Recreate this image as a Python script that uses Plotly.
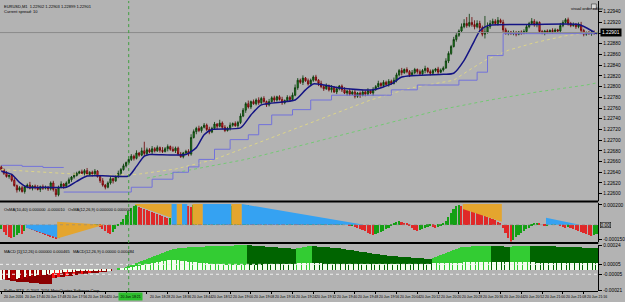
import plotly.graph_objects as go

W, H = 625, 302
BG = '#B3B3B3'

# ---------------- DATA ----------------
# EURUSD M1 candles; prices stored as points (1e-5) above 1.22000
BASE = 1.22
FIRST_OPEN = 650
CLOSE_PTS = [
    645, 638, 632, 634, 625, 615, 607, 611, 604, 613,
    616, 610, 614, 611, 608, 613, 610, 612, 609, 620,
    608, 598, 612, 618, 614, 620, 626, 631, 634, 638,
    641, 638, 643, 636, 640, 637, 642, 632, 624, 616,
    612, 620, 628, 624, 632, 638, 645, 652, 658, 664,
    670, 666, 676, 672, 680, 675, 682, 678, 684, 680,
    686, 681, 679, 684, 688, 683, 680, 685, 674, 669,
    676, 679, 674, 705, 716, 722, 718, 724, 728, 720,
    715, 722, 730, 726, 732, 724, 718, 722, 728, 731,
    727, 733, 745, 756, 768, 762, 772, 768, 775, 770,
    778, 772, 766, 772, 779, 775, 781, 776, 770, 774,
    780, 776, 784, 798, 812, 808, 816, 811, 805, 812,
    818, 812, 806, 800, 796, 802, 794, 798, 790, 796,
    801, 794, 788, 792, 786, 790, 782, 788, 784, 790,
    786, 792, 788, 795, 800, 806, 802, 808, 804, 810,
    806, 812, 822, 830, 826, 832, 828, 822, 826, 832,
    828, 824, 830, 834, 828, 825, 830, 833, 827, 831,
    835, 848, 862, 875, 888, 896, 904, 912, 918, 914,
    920, 916, 912, 918, 910, 898, 902, 912, 918, 922,
    918, 924, 920, 906, 900, 902, 899, 901, 898, 902,
    900, 903, 912, 918, 922, 916, 920, 903, 900, 904,
    902, 905, 903, 906, 904, 914, 920, 925, 918, 914,
    916, 912, 915, 905, 898, 901, 899, 902, 900, 901,
]
UPPER_WICK = [
    3, 2, 4, 2, 3, 5, 2, 3, 4, 2,
    3, 6, 2, 3, 5, 2, 4, 3, 2, 3,
    4, 2, 3, 5, 2, 3, 4, 2, 5, 3,
    2, 4, 3, 5, 2, 3, 4, 2, 3, 5,
    2, 3, 4, 2, 3, 5, 3, 4, 2, 6,
    4, 3, 5, 2, 6, 17, 4, 3, 5, 3,
    4, 2, 6, 3, 4, 2, 5, 3, 3, 4,
    2, 3, 4, 6, 4, 3, 5, 2, 4, 3,
    5, 3, 4, 2, 6, 3, 4, 3, 5, 2,
    4, 3, 5, 4, 3, 6, 2, 4, 3, 5,
    3, 4, 2, 5, 3, 4, 2, 3, 5, 2,
    4, 3, 5, 6, 4, 3, 5, 2, 4, 3,
    3, 4, 2, 5, 3, 4, 2, 5, 3, 4,
    2, 3, 5, 2, 4, 3, 5, 2, 3, 4,
    3, 5, 2, 4, 3, 5, 2, 4, 3, 4,
    3, 5, 4, 3, 5, 2, 4, 3, 5, 3,
    2, 4, 3, 5, 2, 4, 3, 2, 4, 3,
    3, 5, 4, 3, 5, 4, 3, 6, 8, 12,
    16, 10, 8, 6, 5, 4, 30, 8, 6, 5,
    4, 6, 3, 5, 4, 3, 2, 4, 3, 2,
    3, 4, 5, 3, 6, 4, 3, 2, 3, 2,
    3, 2, 4, 3, 2, 5, 4, 3, 4, 3,
    4, 3, 5, 6, 3, 2, 3, 2, 3, 2,
]
LOWER_WICK = [
    2, 3, 2, 4, 3, 2, 5, 3, 2, 4,
    3, 2, 4, 3, 2, 5, 3, 2, 4, 3,
    4, 4, 3, 2, 5, 3, 2, 4, 3, 2,
    3, 2, 4, 3, 2, 5, 3, 2, 4, 3,
    4, 2, 3, 5, 2, 3, 4, 2, 3, 2,
    3, 4, 2, 3, 2, 4, 3, 2, 5, 3,
    2, 4, 3, 2, 5, 3, 2, 4, 3, 2,
    3, 2, 4, 3, 2, 5, 3, 4, 2, 3,
    4, 2, 3, 5, 2, 4, 3, 2, 4, 3,
    2, 4, 3, 2, 5, 3, 4, 2, 3, 4,
    3, 2, 4, 3, 2, 5, 3, 2, 4, 3,
    2, 4, 3, 2, 4, 3, 5, 2, 3, 4,
    3, 2, 5, 3, 4, 2, 3, 5, 2, 4,
    3, 4, 2, 5, 3, 2, 4, 3, 5, 2,
    4, 3, 2, 5, 3, 2, 4, 3, 2, 4,
    3, 2, 4, 3, 5, 2, 3, 4, 2, 3,
    4, 3, 2, 5, 3, 4, 2, 3, 5, 2,
    3, 2, 4, 3, 2, 4, 3, 2, 3, 4,
    3, 4, 5, 3, 6, 4, 8, 3, 4, 2,
    3, 4, 2, 5, 3, 4, 2, 3, 4, 2,
    3, 2, 4, 3, 2, 4, 5, 3, 2, 4,
    3, 2, 4, 3, 2, 4, 3, 2, 4, 3,
    2, 4, 3, 5, 4, 3, 2, 4, 3, 2,
]

# indicator lines read at sample bars (points above 1.22000)
FAST_BARS = [0, 4, 7, 10, 17, 25, 29, 33, 41, 49, 52, 55, 57, 71, 75, 78, 81, 92, 96, 100, 113,
             117, 120, 131, 143, 150, 154, 170, 174, 178, 182, 184, 187, 203, 222, 225, 229]
FAST_PTS = [642, 636, 621, 612, 612, 612, 623, 633, 633, 633, 651, 670, 673, 673, 686, 710, 720, 723,
            747, 766, 775, 794, 805, 797, 794, 805, 818, 823, 825, 849, 886, 904, 914, 916, 916, 910, 899]
UPPER_STOP_BARS = [0, 8, 16, 24]
UPPER_STOP_PTS = [653, 651, 649, 649]
LOWER_STOP_BARS = [24, 50, 58, 66, 72, 76, 82, 88, 95, 99, 104, 112, 119, 127, 150, 160, 176, 183, 187, 193, 229]
LOWER_STOP_PTS = [603, 612, 627, 640, 650, 664, 683, 701, 710, 729, 747, 757, 775, 784, 794, 803, 812,
                  827, 858, 899, 899]
SLOW_BARS = [0, 19, 37, 52, 67, 82, 97, 112, 127, 142, 157, 174, 180, 186, 195, 205, 217, 229]
SLOW_PTS = [645, 640, 634, 636, 646, 664, 692, 720, 747, 775, 797, 812, 831, 849, 868, 882, 895, 903]
LONG_BARS = [56, 75, 94, 112, 131, 150, 169, 188, 206, 225, 229]
LONG_PTS = [629, 646, 664, 686, 710, 734, 757, 775, 790, 803, 807]

PRICE_TICKS = [1.22940, 1.22920, 1.22900, 1.22880, 1.22860, 1.22840, 1.22820, 1.22800, 1.22780,
               1.22760, 1.22740, 1.22720, 1.22700, 1.22680, 1.22660, 1.22640, 1.22620, 1.22600]

# OsMA histogram (1e-5)
OSMA = [
    -4, -7, -10, -12, -13, -12, -10, -8, -9, -6,
    -3, -4, -5, -6, -7, -8, -9, -10, -11, -12,
    -13, -14, -13, -12, -11, -10, -9, -8, -7, -6,
    -5, -4, -3, -3, -2, -2, -1, -1, -2, -4,
    -6, -8, -9, -7, -4, -1, 3, 6, 10, 14,
    17, 19, 20, 18, 17, 16, 15, 14, 13, 12,
    11, 10, 9, 8, 7, 7, 6, 8, 12, 16,
    19, 20, 19, 18, 20, 20, 19, 18, 20, 20,
    20, 19, 20, 20, 19, 20, 20, 18, 17, 19,
    20, 20, 19, 20, 20, 20, 19, 18, 18, 17,
    16, 16, 15, 14, 14, 13, 12, 12, 11, 10,
    10, 9, 9, 8, 7, 7, 6, 6, 5, 5,
    4, 4, 3, 3, 3, 2, 2, 2, 1, 1,
    1, 1, 0, 0, -1, -1, -2, -3, -4, -5,
    -6, -8, -9, -10, -9, -8, -7, -6, -4, -3,
    -1, 1, 3, 4, 3, 2, 1, -1, -3, -5,
    -6, -5, -4, -3, -2, -1, -2, -3, -2, -1,
    1, 4, 8, 12, 16, 19, 20, 19, 18, 17,
    16, 15, 14, 13, 12, 10, 9, 8, 7, 6,
    5, 3, 1, -3, -8, -13, -17, -15, -12, -10,
    -8, -6, -4, -3, -1, 1, 2, 1, 0, -1,
    -1, 0, 1, 1, 0, -1, -2, -3, -2, -3,
    -4, -5, -6, -7, -8, -9, -10, -11, -10, -9,
]
# OsMA cloud segments: (colour, first bar, last bar, top@first, top@last, bottom@first, bottom@last)
OSMA_CLOUDS = [
    ('blue', 10, 22, 0, 0, -3, -14),
    ('orange', 22, 39, 3, 0, -14, 0),
    ('orange', 52, 66, 21, 21, 20, 6),
    ('blue', 66, 67, 21, 21, 0, 0),
    ('orange', 68, 70, 21, 21, 0, 0),
    ('blue', 70, 71, 21, 21, 0, 0),
    ('orange', 74, 77, 21, 21, 0, 0),
    ('blue', 78, 88, 21, 21, 0, 0),
    ('orange', 89, 92, 21, 21, 0, 0),
    ('blue', 93, 139, 21, 0, 0, 0),
    ('orange', 178, 192, 21, 21, 16, 3),
    ('blue', 210, 222, 7, 0, 0, 0),
]

# MACD main (1e-5)
MACD_MAIN = [
    -9, -9, -10, -10, -11, -11, -12, -12, -12, -12, -12, -13, -13, -13, -13,
    -14, -14, -14, -14, -14,
    -8, -8, -7, -7, -7, -6, -6, -6, -5, -5, -5, -4, -4, -4, -3, -3, -3, -3, -2, -2, -2, -1,
    -1, 0, 0, 1, 1,
    2, 3, 4, 5, 6, 7, 8, 9, 10, 11, 12, 13, 14, 15, 16, 17, 18, 19, 20, 20.5, 21, 21.5, 22,
    22.2, 22.4, 22.6, 22.8, 23, 23.1, 23.2, 23.3, 23.4, 23.5, 23.6, 23.7, 23.8, 23.9, 24,
    24.1, 24.2, 24.3, 24.4, 24.5, 24.6, 24.7, 24.8, 24.9, 25,
    24.8, 24.6, 24.4, 24.2, 24, 23.8, 23.6, 23.4, 23.2, 23, 22.8, 22.6, 22.4, 22.2, 22, 21.8,
    21.6, 21.4, 21.2,
    21.6, 22, 22.5, 23, 23.5, 24,
    23.8, 23.6, 23.4, 23.2, 23, 22.8, 22.6, 22.4, 22.2, 22, 21.6, 21.2, 20.8, 20.4, 20, 19.6,
    19.2, 18.8, 18.4, 18,
    17.6, 17.2, 16.8, 16.4, 16, 15.6, 15.2, 14.8, 14.4, 14, 13.8, 13.6, 13.4, 13.2, 13, 12.8,
    12.6, 12.4, 12.2, 12, 11.8, 11.6, 11.4, 11.2, 11, 10.8,
    12, 13, 14, 15, 16, 17, 18, 19, 20, 21, 22,
    22.5, 22.8, 23.1, 23.4, 23.6, 23.8, 24, 24.1, 24.2, 24.3, 24.4, 24.5,
    24.3, 24.1, 23.9, 23.7, 23.5, 23.3, 23.1,
    23.3, 23.5, 23.7, 23.9, 24.1, 24.3, 24.4, 24.5,
    24.4, 24.3, 24.2, 24.1, 24, 23.9, 23.8, 23.7, 23.6, 23.5, 23.4, 23.3, 23.2, 23.1, 23,
    22.9, 22.8, 22.7, 22.6, 22.5, 22.4, 22.3, 22.2, 22.1, 22, 21.9,
]
# MACD histogram (1e-5)
MACD_HIST = [
    -10, -9, -10, -8, -9, -10, -9, -8, -9, -7, -8, -6, -7, -6, -5, -6,
    -5, -5, -4, -4, -3, -3, -3, -3, -2, -2, -2, -2, -2, -1, -1, -1, -1, -1, -1, -1, -1, -1, -1,
    -1, -1, -1, -1, 0, 0, 0,
    1, 1, 2, 2, 3, 3, 4, 4, 5, 5, 6, 6, 7, 7, 8, 8, 9, 9, 10, 10,
    10, 10, 10, 9, 9, 9, 8, 8, 8, 8, 7, 7, 7, 7, 6, 6, 6, 6, 6, 6, 5, 5, 5, 5, 5, 5, 5, 5, 5, 5,
    5, 5, 5, 5, 5, 6, 6, 6, 6, 6, 6, 6, 6, 6, 6, 6, 6, 6, 7, 7, 7, 7, 7, 7, 7, 7, 7, 7, 6, 6,
    6, 6, 6, 6, 6, 6, 6, 6, 6, 6,
    6, 6, 6, 6, 6, 6, 6, 6, 6, 6, 6, 6, 6, 6, 6, 6, 6, 6, 6, 6, 6, 6, 6, 6, 6, 6, 6, 6, 6, 6,
    7, 7, 7, 7, 7, 7, 7, 7, 7, 7,
    7, 7, 8, 8, 8, 8, 8, 8, 8, 8, 8, 8, 8, 8, 8, 8, 8, 8, 8, 8, 8, 8, 8, 8, 8, 8, 8, 8, 8, 8,
    7, 7, 7, 7, 7, 7, 7, 7, 7, 7, 7, 7, 7, 7, 7, 7, 7, 7, 7, 7, 7, 7, 7, 7,
]
MACD_LEVELS = [5, -5]

TIME_TICK_BARS = [0, 8, 16, 24, 32, 40, 48, 56, 64, 72, 80, 88, 96, 104, 112, 120, 128, 136, 144,
                  152, 160, 168, 176, 184, 192, 200, 208, 216, 224]
TIME_TICK_TEXT = ['20 Jun 2016', '20 Jun 17:40', '20 Jun 17:48', '20 Jun 17:56', '20 Jun 18:04',
                  '20 Jun 18:12', '20 Jun 18:20', '20 Jun 18:28', '20 Jun 18:36', '20 Jun 18:44',
                  '20 Jun 18:52', '20 Jun 19:00', '20 Jun 19:08', '20 Jun 19:16', '20 Jun 19:24',
                  '20 Jun 19:32', '20 Jun 19:40', '20 Jun 19:48', '20 Jun 19:56', '20 Jun 20:04',
                  '20 Jun 20:12', '20 Jun 20:20', '20 Jun 20:28', '20 Jun 20:36', '20 Jun 20:44',
                  '20 Jun 20:52', '20 Jun 21:00', '20 Jun 21:08', '20 Jun 21:16']
CURSOR_BAR = 49
CURSOR_TEXT = '20 Jun 18:21'

# ---------------- BUILD ----------------
N = len(CLOSE_PTS)
bars = list(range(N))
p = lambda v: round(BASE + v * 1e-5, 5)
close = [p(v) for v in CLOSE_PTS]
open_ = [p(FIRST_OPEN)] + close[:-1]
high = [round(max(o, c) + u * 1e-5, 5) for o, c, u in zip(open_, close, UPPER_WICK)]
low = [round(min(o, c) - d * 1e-5, 5) for o, c, d in zip(open_, close, LOWER_WICK)]

FONT = 'Liberation Sans'


def py(px):
    return 1 - px / H


def pxx(px):
    return px / W


fig = go.Figure()

fig.add_trace(go.Candlestick(
    x=bars, open=open_, high=high, low=low, close=close, xaxis='x', yaxis='y',
    increasing=dict(line=dict(color='#063806', width=0.8), fillcolor='#1E8C1E'),
    decreasing=dict(line=dict(color='#6A0000', width=0.8), fillcolor='#E8303C'),
    whiskerwidth=0, hoverinfo='skip', showlegend=False))

fig.add_trace(go.Scatter(x=LONG_BARS, y=[p(v) for v in LONG_PTS], mode='lines',
                         line=dict(color='#74C874', width=1, dash='dot'), yaxis='y'))
fig.add_trace(go.Scatter(x=SLOW_BARS, y=[p(v) for v in SLOW_PTS], mode='lines',
                         line=dict(color='#DCD48A', width=1, dash='dot'), yaxis='y'))
fig.add_trace(go.Scatter(x=UPPER_STOP_BARS, y=[p(v) for v in UPPER_STOP_PTS], mode='lines',
                         line=dict(color='#7272DA', width=1, shape='hv'), yaxis='y'))
fig.add_trace(go.Scatter(x=LOWER_STOP_BARS, y=[p(v) for v in LOWER_STOP_PTS], mode='lines',
                         line=dict(color='#7272DA', width=1, shape='hv'), yaxis='y'))
fig.add_trace(go.Scatter(x=FAST_BARS, y=[p(v) for v in FAST_PTS], mode='lines',
                         line=dict(color='#141484', width=1.5, shape='spline', smoothing=0.6), yaxis='y'))

# ---- OsMA panel ----
osma_cols = []
for i, v in enumerate(OSMA):
    prev = OSMA[i - 1] if i else v
    osma_cols.append('#14A014' if v >= prev else '#E02828')
fig.add_trace(go.Bar(x=bars, y=[v * 1e-5 for v in OSMA], marker=dict(color=osma_cols, line=dict(width=0)),
                     width=0.6, yaxis='y2', hoverinfo='skip'))
cloud_col = {'blue': '#35A2F2', 'orange': '#E4A52E'}
for col, b0, b1, t0, t1, l0, l1 in OSMA_CLOUDS:
    fig.add_trace(go.Scatter(
        x=[b0 - 0.5, b1 + 0.5, b1 + 0.5, b0 - 0.5, b0 - 0.5],
        y=[t0 * 1e-5, t1 * 1e-5, l1 * 1e-5, l0 * 1e-5, t0 * 1e-5],
        mode='lines', fill='toself', fillcolor=cloud_col[col], line=dict(width=0, color=cloud_col[col]),
        yaxis='y2', hoverinfo='skip'))

# ---- MACD panel ----
main_cols = []
for i, v in enumerate(MACD_MAIN):
    prev = MACD_MAIN[i - 1] if i else v
    if v >= 0:
        main_cols.append('#33CC33' if v > prev else '#006400')
    else:
        main_cols.append('#FF1010' if v > prev else '#8B0000')
fig.add_trace(go.Bar(x=bars, y=[v * 1e-5 for v in MACD_MAIN], marker=dict(color=main_cols, line=dict(width=0)),
                     width=1.0, yaxis='y3', hoverinfo='skip'))
hist_cols = []
for i, v in enumerate(MACD_HIST):
    prev = MACD_HIST[i - 1] if i else v
    if v < 0 and v < prev:
        hist_cols.append('#B00000')
    else:
        hist_cols.append('#F4FFF0')
fig.add_trace(go.Bar(x=bars, y=[v * 1e-5 for v in MACD_HIST], marker=dict(color=hist_cols, line=dict(width=0)),
                     width=0.5, yaxis='y3', hoverinfo='skip'))

# ---------------- LAYOUT ----------------
XEND = 612 / W
main_top, main_bot = 0, 202
p1_top, p1_bot = 204, 243
p2_top, p2_bot = 246, 293
price_hi = 1.22960
price_lo = price_hi - main_bot * 0.0000185

axis_common = dict(showgrid=False, zeroline=False, side='right', anchor='x', ticks='outside', ticklen=3,
                   tickcolor='#000', tickfont=dict(size=4.8, color='#000', family=FONT),
                   showline=True, linecolor='#000', linewidth=1, fixedrange=True)

fig.update_layout(
    width=W, height=H, margin=dict(l=0, r=0, t=0, b=0), paper_bgcolor=BG, plot_bgcolor=BG,
    showlegend=False, barmode='overlay', bargap=0, hovermode=False,
    xaxis=dict(domain=[0, XEND], range=[-0.5, 229.6], showgrid=False, zeroline=False,
               showticklabels=False, tickvals=TIME_TICK_BARS, ticks='outside', ticklen=2,
               tickcolor='#000', anchor='free', position=py(p2_bot), showline=True,
               linecolor='#000', linewidth=1, rangeslider=dict(visible=False), fixedrange=True),
    yaxis=dict(domain=[py(main_bot), py(main_top)], range=[price_lo, price_hi],
               tickvals=PRICE_TICKS, ticktext=['%.5f' % t for t in PRICE_TICKS], **axis_common),
    yaxis2=dict(domain=[py(p1_bot), py(p1_top)], range=[-0.00017, 0.00022],
                tickvals=[0.00020, -0.00015], ticktext=['0.000200', '-0.000150'], **axis_common),
    yaxis3=dict(domain=[py(p2_bot), py(p2_top)], range=[-0.00022, 0.00025],
                tickvals=[0.00024, 0.00005, -0.00005, -0.00021],
                ticktext=['0.00024', '0.00005', '-0.00005', '-0.00021'], **axis_common),
)

shapes = []
for y in (202.5, 244.5):
    shapes.append(dict(type='line', xref='paper', yref='paper', x0=0, x1=XEND, y0=py(y), y1=py(y),
                       line=dict(color='#000', width=2)))
shapes.append(dict(type='line', xref='x', yref='y', x0=-0.5, x1=229.6, y0=close[-1], y1=close[-1],
                   line=dict(color='#8A8A8A', width=1)))
for lv in MACD_LEVELS:
    shapes.append(dict(type='line', xref='x', yref='y3', x0=-0.5, x1=229.6, y0=lv * 1e-5, y1=lv * 1e-5,
                       line=dict(color='#F0F0F0', width=1, dash='dot')))
shapes.append(dict(type='line', xref='x', yref='y2', x0=-0.5, x1=229.6, y0=0, y1=0,
                   line=dict(color='#8A8A8A', width=0.6, dash='dot')))
shapes.append(dict(type='line', xref='x', yref='paper', x0=CURSOR_BAR, x1=CURSOR_BAR, y0=py(p2_bot), y1=1,
                   line=dict(color='#3F9F3F', width=1, dash='dot')))
shapes.append(dict(type='rect', xref='paper', yref='paper', x0=pxx(605), x1=pxx(610), y0=py(8), y1=py(3),
                   line=dict(color='#333', width=0.6), fillcolor='#D8D8D8'))
fig.update_layout(shapes=shapes)

ann = []
small = dict(family=FONT, size=4, color='#000')
tick_font = dict(family=FONT, size=3.5, color='#000')
for b, t in zip(TIME_TICK_BARS, TIME_TICK_TEXT):
    if abs(b - CURSOR_BAR) < 4:
        continue  # hidden under the cursor time box
    ann.append(dict(xref='x', yref='paper', x=b + 0.4, y=py(295), text=t, showarrow=False,
                    xanchor='left', yanchor='top', font=tick_font))
ann.append(dict(xref='x', yref='paper', x=CURSOR_BAR + 0.5, y=py(294.3), text=CURSOR_TEXT, showarrow=False,
                xanchor='center', yanchor='top', font=tick_font, bgcolor='#2DBE2D', borderpad=1.5))
ann.append(dict(xref='paper', yref='y', x=XEND + 0.002, y=close[-1], text='%.5f' % close[-1], showarrow=False,
                xanchor='left', yanchor='middle', font=dict(family=FONT, size=4.8, color='#FFF'),
                bgcolor='#000'))
ann.append(dict(xref='paper', yref='y2', x=XEND + 0.002, y=0, text='0.00', showarrow=False,
                xanchor='left', yanchor='middle', font=dict(family=FONT, size=4.8, color='#000'),
                bordercolor='#000', borderwidth=0.5, borderpad=0))
texts = [
    (2, 1.5, 'EURUSD,M1  1.22902 1.22903 1.22899 1.22901'),
    (2, 6.5, 'Current spread: 10'),
    (2, 206, 'OsMA(10,40) 0.000000 -0.000010   OsMA(12,26,9) 0.000000 0.000000'),
    (2, 248, 'MACD [1](12,26) 0.000000 0.000465   MACD(12,26,9) 0.00000 0.000484'),
    (2, 288, 'PoPro RTS, © 2001-2016 MetaQuotes Software Corp.'),
    (582, 3, 'visual order editor'),
]
for x, y, t in texts:
    ann.append(dict(xref='paper', yref='paper', x=pxx(x), y=py(y), text=t, showarrow=False,
                    xanchor='left', yanchor='top', font=small))
fig.update_layout(annotations=ann)

fig.write_html('out.html')
